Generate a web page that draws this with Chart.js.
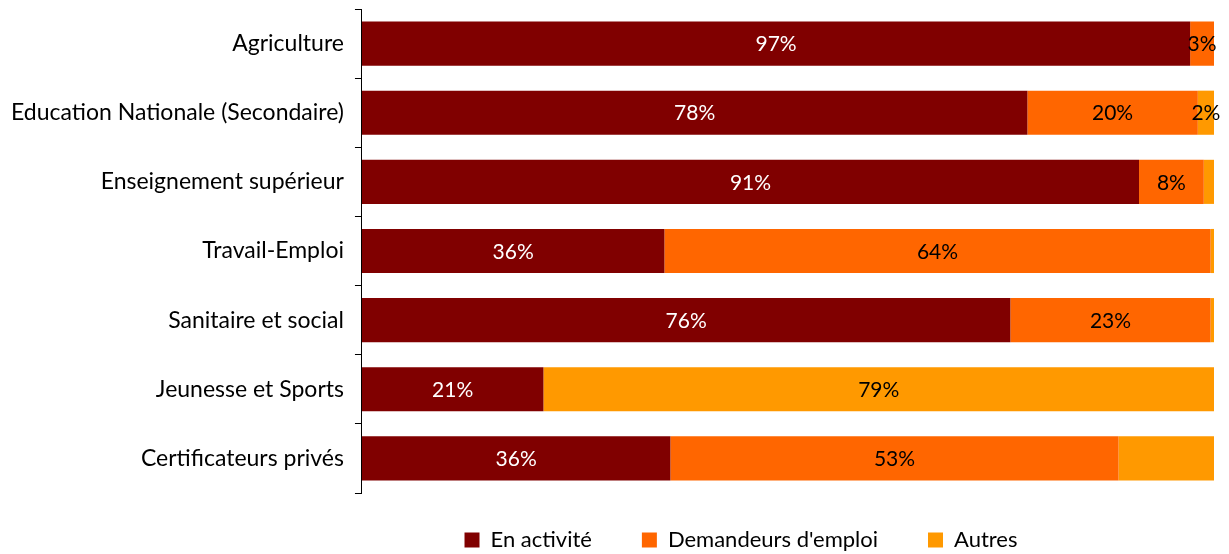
<!DOCTYPE html>
<html>
<head>
<meta charset="utf-8">
<script src="https://cdn.jsdelivr.net/npm/chart.js@4/dist/chart.umd.min.js"></script>
<style>
  html, body { margin: 0; padding: 0; background: #fff; }
  #wrap { width: 1229px; height: 554px; }
</style>
</head>
<body>
<div id="wrap"><canvas id="parts"></canvas></div>
<script>
// categories and shares (%)
const categories = [
  "Agriculture",
  "Education Nationale (Secondaire)",
  "Enseignement supérieur",
  "Travail-Emploi",
  "Sanitaire et social",
  "Jeunesse et Sports",
  "Certificateurs privés"
];
const enActivite = [97.2, 78.1, 91.2, 35.5, 76.1, 21.3, 36.2];
const demandeurs = [2.8, 20.0, 7.6, 64.1, 23.5, 0, 52.6];
const autres = [0, 1.9, 1.2, 0.4, 0.4, 78.7, 11.2];

// labels printed on the bars ("" = none)
const enActiviteLabels = ["97%", "78%", "91%", "36%", "76%", "21%", "36%"];
const demandeursLabels = ["3%", "20%", "8%", "64%", "23%", "", "53%"];
const autresLabels = ["", "2%", "", "", "", "79%", ""];

const FONT = "Lato";

const barLabels = {
  id: "barLabels",
  afterInit(chart) {
    // legend takes less room than chart.js gives it
    const lg = chart.legend;
    const fit = lg.fit.bind(lg);
    lg.fit = function () { fit(); this.height -= 21; };
  },
  afterLayout(chart) {
    // legend sits right of centre in the original
    const lg = chart.legend;
    lg.left += 134; lg.right += 134;
    lg.top -= 14; lg.bottom = chart.height;
  },
  afterDatasetsDraw(chart) {
    const ctx = chart.ctx;
    ctx.save();
    ctx.font = "21px " + FONT;
    ctx.textAlign = "center";
    ctx.textBaseline = "middle";
    chart.data.datasets.forEach((ds, i) => {
      const meta = chart.getDatasetMeta(i);
      meta.data.forEach((bar, j) => {
        const txt = ds.labelsText[j];
        if (!txt) return;
        const x = (bar.base + bar.x) / 2;
        ctx.fillStyle = i === 0 ? "#fff" : "#000";
        ctx.fillText(txt, x, bar.y + 1);
      });
    });
    ctx.restore();
  }
};

const parts = document.getElementById("parts");

new Chart(parts, {
  type: "bar",
  data: {
    labels: categories,
    datasets: [
      { label: "En activité", data: enActivite, labelsText: enActiviteLabels, backgroundColor: "#800000" },
      { label: "Demandeurs d'emploi", data: demandeurs, labelsText: demandeursLabels, backgroundColor: "#FF6600" },
      { label: "Autres", data: autres, labelsText: autresLabels, backgroundColor: "#FF9900" }
    ]
  },
  options: {
    indexAxis: "y",
    responsive: true,
    maintainAspectRatio: false,
    animation: false,
    datasets: { bar: { barPercentage: 0.638, categoryPercentage: 1.0 } },
    layout: { padding: { top: 9, right: 15, left: 0, bottom: 0 } },
    plugins: {
      legend: {
        position: "bottom",
        labels: {
          color: "#000",
          font: { family: FONT, size: 22 },
          boxWidth: 15,
          boxHeight: 15,
          padding: 50
        }
      },
      tooltip: { enabled: false }
    },
    scales: {
      x: {
        stacked: true,
        min: 0,
        max: 100,
        display: false
      },
      y: {
        stacked: true,
        border: { display: true, color: "#000", width: 1 },
        grid: { drawOnChartArea: false, tickLength: 7, color: "#000", offset: true },
        ticks: { color: "#000", font: { family: FONT, size: 23 }, padding: 11 },
        afterFit(scale) { scale.paddingTop = 0; scale.paddingBottom = 0; }
      }
    }
  },
  plugins: [barLabels]
});
</script>
</body>
</html>
